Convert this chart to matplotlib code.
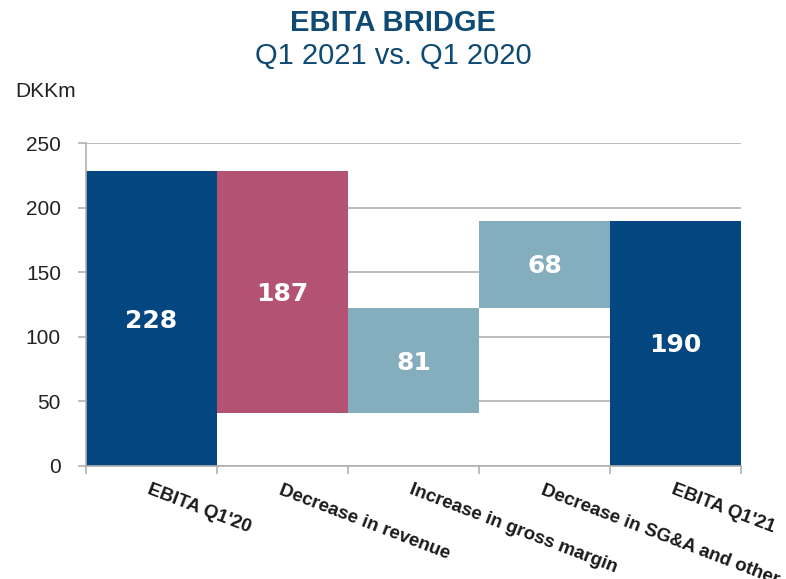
"""
EBITA bridge Q1 2021 vs Q1 2020
"""

import numpy as np
import matplotlib
matplotlib.use('Agg')
from matplotlib import pyplot as plt
from matplotlib import font_manager as fm

categories = ["EBITA Q1'20", "Decrease in revenue", "Increase in gross margin",
              "Decrease in SG&A and other", "EBITA Q1'21"]
bar_bottom = [0, 41, 41, 122, 0]
bar_top = [228, 228, 122, 190, 190]
bar_labels = ["228", "187", "81", "68", "190"]
yticks = [0, 50, 100, 150, 200, 250]

couleurs = ['#034680', '#b35272', '#84adbd', '#84adbd', '#034680']
gris = '#b0b0b0'

noms = {f.name for f in fm.fontManager.ttflist}
police_etroite = 'Liberation Sans Narrow' if 'Liberation Sans Narrow' in noms else 'Liberation Sans'

fig = plt.figure(figsize=(7.86, 5.79), dpi=100)
ax = fig.add_axes([0.1094, 0.1952, 0.8333, 0.5578])

x = np.arange(len(categories)) + 0.5
hauteurs = np.array(bar_top) - np.array(bar_bottom)
ax.bar(x, hauteurs, bottom=bar_bottom, width=1.0, color=couleurs, zorder=2)

# etiquettes au milieu des barres
for xi, b, t, lab in zip(x, bar_bottom, bar_top, bar_labels):
    ax.text(xi, (b + t) / 2 - 1.5, lab, ha='center', va='center', color='white',
            fontsize=18, fontweight='bold', family='DejaVu Sans', zorder=3)

ax.set_xlim(0, len(categories))
ax.set_ylim(0, 250)
ax.set_yticks(yticks)
ax.set_yticklabels([str(v) for v in yticks], family=police_etroite, fontsize=15,
                   color='#222222')
ax.yaxis.grid(True, color=gris, linewidth=1.2, zorder=0)
ax.set_axisbelow(True)

ax.set_xticks(np.arange(len(categories) + 1))
ax.set_xticklabels([])
for xi, lab in zip(x, categories):
    ax.text(xi, -12, lab, rotation=-21, rotation_mode='anchor', ha='left', va='top',
            fontsize=13.5, fontweight='bold', family=police_etroite, color='#1a1a1a')

for s in ['top', 'right']:
    ax.spines[s].set_visible(False)
for s in ['left', 'bottom']:
    ax.spines[s].set_color(gris)
    ax.spines[s].set_linewidth(1.2)
ax.tick_params(axis='both', color=gris, length=6, width=1.2)
ax.tick_params(axis='y', pad=12)

fig.text(0.5, 0.960, "EBITA BRIDGE", ha='center', va='center', fontsize=21,
         fontweight='bold', color='#0f4a74', family=police_etroite)
fig.text(0.5, 0.903, "Q1 2021 vs. Q1 2020", ha='center', va='center', fontsize=21,
         color='#0f4a74', family=police_etroite)
fig.text(0.019, 0.842, "DKKm", ha='left', va='center', fontsize=15,
         color='#222222', family=police_etroite)

fig.savefig('out.png', dpi=100)
